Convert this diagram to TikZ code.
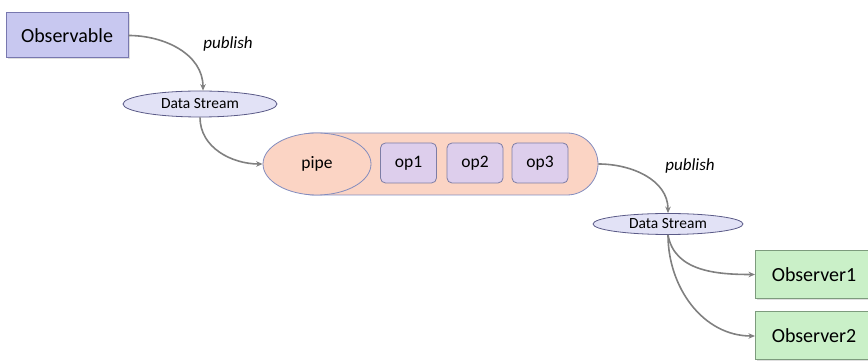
\documentclass[tikz,border=0pt]{standalone}
\usepackage{fontspec}
\setmainfont{Carlito}
\usepackage{tikz}
\usetikzlibrary{arrows.meta, shapes.geometric, shadows}

\definecolor{obsfill}{RGB}{200,200,240}
\definecolor{obsline}{RGB}{120,120,175}
\definecolor{streamfill}{RGB}{226,226,246}
\definecolor{streamline}{RGB}{90,90,135}
\definecolor{pipefill}{RGB}{251,212,196}
\definecolor{pipeline}{RGB}{130,140,190}
\definecolor{opfill}{RGB}{221,206,236}
\definecolor{opline}{RGB}{125,125,165}
\definecolor{subfill}{RGB}{202,240,200}
\definecolor{subline}{RGB}{125,155,125}
\definecolor{flow}{RGB}{128,128,128}

\tikzset{
  source/.style={rectangle, draw=obsline, fill=obsfill, line width=1pt,
    minimum width=122pt, minimum height=45pt,
    drop shadow={shadow xshift=1.5pt, shadow yshift=-1.5pt, fill=black!25},
    font=\fontsize{20}{24}\selectfont},
  stream/.style={ellipse, draw=streamline, fill=streamfill, line width=0.8pt,
    inner sep=0pt, font=\fontsize{15.5}{18}\selectfont},
  operator/.style={rectangle, rounded corners=5pt, draw=opline, fill=opfill,
    line width=0.8pt, minimum width=56pt, minimum height=40pt,
    font=\fontsize{17.5}{20}\selectfont},
  sink/.style={rectangle, draw=subline, fill=subfill, line width=1pt,
    minimum height=48pt, minimum width=117pt,
    drop shadow={shadow xshift=1.5pt, shadow yshift=-1.5pt, fill=black!25},
    font=\fontsize{20}{24}\selectfont},
  verb/.style={font=\fontsize{17}{20}\selectfont\itshape},
  flowarrow/.style={draw=flow, line width=1.6pt,
    -{Stealth[length=6.5pt, width=5.5pt]}}
}

\begin{document}
\begin{tikzpicture}[x=1pt, y=1pt]
  \useasboundingbox (0,0) rectangle (868,364);

  % Source
  \node[source] (observable) at (67,328.5) {Observable};
  \node[verb] (publishA) at (228,320) {publish};
  \node[stream, minimum width=154pt, minimum height=26pt] (streamA) at (200,260) {Data Stream};

  % Pipe with its operators (left end hidden by the pipe ellipse)
  \node[draw=pipeline, fill=pipefill, line width=0.8pt, rounded corners=31pt,
    minimum width=316pt, minimum height=62pt] (chain) at (440,200) {};
  \node[ellipse, draw=pipeline, fill=pipefill, line width=0.8pt,
    minimum width=108pt, minimum height=62pt, inner sep=0pt,
    font=\fontsize{17.5}{20}\selectfont] (pipe) at (317,200) {pipe};
  \node[operator] (opA) at (408.5,201) {op1};
  \node[operator] (opB) at (475,201) {op2};
  \node[operator] (opC) at (540,201) {op3};

  % Output stream and observers
  \node[verb] (publishB) at (690,198) {publish};
  \node[stream, minimum width=150pt, minimum height=21pt] (streamB) at (668,140) {Data Stream};
  \node[sink, anchor=west] (observerA) at (755,89.5) {Observer1};
  \node[sink, anchor=west] (observerB) at (755,28) {Observer2};

  % Connectors
  \draw[flowarrow] (observable.east) to[out=0, in=90] ([xshift=3pt]streamA.north);
  \draw[flowarrow] (streamA.south) to[out=-90, in=180] (pipe.west);
  \draw[flowarrow] (chain.east) to[out=0, in=90] (streamB.north);
  \draw[flowarrow] (streamB.south) to[out=-80, in=180] (observerA.west);
  \draw[flowarrow] (streamB.south) to[out=-90, in=180] (observerB.west);
\end{tikzpicture}
\end{document}
